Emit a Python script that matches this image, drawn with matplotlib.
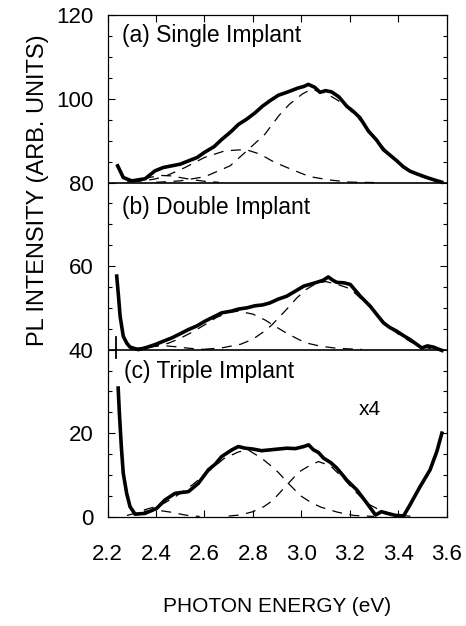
import numpy as np
import matplotlib.pyplot as plt

plt.rcParams['font.family'] = ['Liberation Sans', 'DejaVu Sans']

# (a) single implant, baseline 80
a_x = [2.242, 2.265, 2.30, 2.355, 2.396, 2.43, 2.465, 2.50, 2.535, 2.57, 2.602, 2.64, 2.671, 2.71, 2.74,
       2.775, 2.809, 2.84, 2.871, 2.905, 2.94, 2.985, 3.01, 3.029, 3.055, 3.077, 3.10, 3.125, 3.155, 3.187,
       3.215, 3.242, 3.277, 3.31, 3.338, 3.365, 3.394, 3.42, 3.449, 3.48, 3.518, 3.55, 3.579]
a_y = [84.0, 81.2, 80.4, 80.9, 82.8, 83.6, 84.0, 84.4, 85.2, 86.0, 87.3, 88.6, 90.3, 92.2, 93.9,
       95.2, 96.7, 98.3, 99.6, 100.9, 101.6, 102.6, 103.0, 103.5, 102.8, 101.6, 102.0, 101.7, 100.5, 98.3,
       97.0, 95.5, 92.3, 90.2, 87.9, 86.6, 85.2, 83.8, 82.7, 82.0, 81.2, 80.6, 80.1]
a_low_x = [2.30, 2.35, 2.40, 2.45, 2.52, 2.60, 2.685, 2.77, 2.83, 2.878, 2.912, 2.953, 3.00, 3.036, 3.118, 3.20, 3.30]
a_low_y = [80.2, 80.4, 80.9, 81.8, 83.6, 86.0, 87.6, 87.9, 86.8, 85.2, 84.3, 83.3, 82.2, 81.4, 80.6, 80.1, 80.0]
a_small_x = [2.28, 2.33, 2.38, 2.42, 2.46, 2.50, 2.55, 2.60, 2.66]
a_small_y = [80.1, 80.6, 81.3, 81.7, 81.6, 81.2, 80.7, 80.3, 80.05]
a_high_x = [2.40, 2.50, 2.602, 2.706, 2.781, 2.85, 2.907, 2.95, 3.004, 3.04, 3.10, 3.15, 3.20, 3.25, 3.30,
            3.35, 3.40, 3.45, 3.50, 3.56]
a_high_y = [80.05, 80.4, 81.4, 84.0, 87.9, 91.6, 96.0, 98.7, 101.2, 102.3, 101.4, 99.7, 97.4, 94.5, 91.0,
            87.6, 84.8, 82.7, 81.3, 80.3]

# (b) double implant, baseline 40
b_x = [2.238, 2.245, 2.252, 2.265, 2.28, 2.293, 2.327, 2.36, 2.396, 2.43, 2.465, 2.50, 2.534, 2.57, 2.602,
       2.64, 2.671, 2.71, 2.74, 2.775, 2.809, 2.84, 2.871, 2.905, 2.94, 2.975, 3.01, 3.04, 3.063, 3.09,
       3.111, 3.13, 3.146, 3.175, 3.202, 3.243, 3.284, 3.31, 3.339, 3.365, 3.394, 3.42, 3.449, 3.475,
       3.497, 3.52, 3.545, 3.58]
b_y = [57.6, 53.0, 48.0, 43.2, 41.5, 40.6, 40.0, 40.5, 41.2, 42.0, 42.8, 43.8, 44.8, 45.7, 46.8,
       47.9, 48.8, 49.2, 49.7, 50.0, 50.5, 50.7, 51.2, 52.1, 52.8, 54.0, 55.2, 55.7, 56.1, 56.6,
       57.4, 56.6, 56.1, 56.0, 55.6, 52.8, 50.4, 48.5, 46.4, 45.3, 44.4, 43.4, 42.4, 41.3,
       40.4, 40.9, 40.6, 39.8]
b_low_x = [2.30, 2.35, 2.40, 2.45, 2.50, 2.55, 2.60, 2.65, 2.70, 2.74, 2.80, 2.85, 2.88, 2.94, 2.99, 3.02,
           3.08, 3.15, 3.25]
b_low_y = [40.1, 40.3, 40.8, 41.5, 42.7, 44.2, 45.9, 47.7, 48.9, 49.2, 48.5, 47.1, 46.0, 43.9, 42.4, 41.6,
           40.8, 40.3, 40.05]
b_small_x = [2.30, 2.36, 2.42, 2.48, 2.54, 2.60]
b_small_y = [40.1, 40.7, 41.0, 40.7, 40.3, 40.05]
b_high_x = [2.60, 2.67, 2.75, 2.80, 2.85, 2.88, 2.94, 2.98, 3.02, 3.06, 3.10, 3.15, 3.20, 3.25, 3.30,
            3.35, 3.40, 3.45, 3.50, 3.55]
b_high_y = [40.1, 40.4, 41.3, 42.5, 44.5, 46.0, 49.7, 52.3, 54.4, 55.8, 56.3, 55.6, 54.6, 52.0, 49.2,
            46.0, 43.7, 41.9, 40.6, 40.1]

# (c) triple implant (x4), baseline 0
c_x = [2.244, 2.249, 2.257, 2.265, 2.279, 2.293, 2.314, 2.355, 2.403, 2.437, 2.479, 2.534, 2.575, 2.616,
       2.645, 2.671, 2.713, 2.74, 2.768, 2.80, 2.836, 2.871, 2.905, 2.94, 2.975, 3.01, 3.03, 3.05, 3.07,
       3.092, 3.12, 3.147, 3.187, 3.229, 3.271, 3.306, 3.33, 3.354, 3.39, 3.422, 3.448, 3.49, 3.531,
       3.559, 3.58]
c_y = [30.8, 24.8, 16.8, 10.4, 5.6, 2.4, 0.6, 0.8, 2.0, 4.0, 5.6, 6.0, 8.0, 11.2,
       12.6, 14.4, 16.0, 16.8, 16.4, 16.2, 15.8, 16.0, 16.2, 16.4, 16.3, 16.8, 17.2, 16.0, 15.4,
       14.0, 13.0, 11.6, 8.8, 6.4, 3.2, 0.4, 1.2, 0.8, 0.3, 0.2, 2.8, 7.2, 11.2,
       15.6, 20.0]
c_low_x = [2.35, 2.42, 2.47, 2.55, 2.62, 2.68, 2.74, 2.78, 2.836, 2.87, 2.905, 2.946, 2.997, 3.04, 3.08,
           3.148, 3.216, 3.30]
c_low_y = [1.6, 2.8, 4.4, 7.6, 11.0, 13.9, 15.5, 16.0, 14.0, 12.4, 10.6, 8.0, 5.0, 3.4, 2.3,
           1.1, 0.3, 0.05]
c_small_x = [2.28, 2.34, 2.40, 2.46, 2.52, 2.58]
c_small_y = [0.3, 1.2, 1.6, 1.1, 0.4, 0.05]
c_high_x = [2.70, 2.75, 2.80, 2.845, 2.88, 2.92, 2.953, 2.99, 3.024, 3.07, 3.12, 3.148, 3.18, 3.216,
            3.25, 3.271, 3.32, 3.38, 3.45]
c_high_y = [0.15, 0.44, 1.2, 2.4, 3.8, 6.3, 8.4, 10.7, 11.9, 13.2, 12.2, 10.6, 8.8, 6.4,
            4.5, 3.2, 1.7, 0.55, 0.1]

baselines = [80, 40]
x_ticks = [2.2, 2.4, 2.6, 2.8, 3.0, 3.2, 3.4, 3.6]
x_tick_labels = ['2.2', '2.4', '2.6', '2.8', '3.0', '3.2', '3.4', '3.6']
y_ticks = [0, 20, 40, 60, 80, 100, 120]

fig = plt.figure(figsize=(4.66, 6.26), dpi=100)
ax = fig.add_axes([0.2307, 0.1746, 0.728, 0.8007])

dash = dict(color='black', lw=0.9, dashes=(8, 6))
for xs, ys in [(a_low_x, a_low_y), (a_small_x, a_small_y), (a_high_x, a_high_y),
               (b_low_x, b_low_y), (b_small_x, b_small_y), (b_high_x, b_high_y),
               (c_low_x, c_low_y), (c_small_x, c_small_y), (c_high_x, c_high_y)]:
    ax.plot(xs, ys, **dash)

for b in baselines:
    ax.axhline(b, color='black', lw=1.2)
ax.plot([2.235, 2.235], [38, 43], color='black', lw=1.3)

for xs, ys in [(a_x, a_y), (b_x, b_y), (c_x, c_y)]:
    ax.plot(xs, ys, color='black', lw=2.6, solid_joinstyle='round')

ax.text(2.258, 115.2, '(a) Single Implant', fontsize=16.5, ha='left', va='center')
ax.text(2.258, 74.0, '(b) Double Implant', fontsize=16.5, ha='left', va='center')
ax.text(2.27, 34.7, '(c) Triple Implant', fontsize=16.5, ha='left', va='center')
ax.text(3.283, 25.6, 'x4', fontsize=15, ha='center', va='center')

ax.set_xlim(2.2, 3.6)
ax.set_ylim(0, 120)
ax.set_xticks(x_ticks)
ax.set_xticklabels(x_tick_labels)
ax.set_yticks(y_ticks)
ax.set_yticks(np.arange(0, 121, 5), minor=True)
ax.tick_params(which='both', direction='in', top=True, right=True, width=0.8)
ax.tick_params(axis='x', which='major', length=5, pad=20, labelsize=16)
ax.tick_params(axis='y', which='major', length=5, pad=10, labelsize=16)
ax.tick_params(axis='y', which='minor', length=3)
for s in ax.spines.values():
    s.set_linewidth(0.9)

fig.text(277 / 466, 1 - 607 / 626, 'PHOTON ENERGY (eV)', fontsize=15, ha='center', va='center')
fig.text(38 / 466, 1 - 190 / 626, 'PL INTENSITY (ARB. UNITS)', fontsize=17, rotation=90,
         ha='center', va='center')

fig.savefig('out.png', dpi=100)
